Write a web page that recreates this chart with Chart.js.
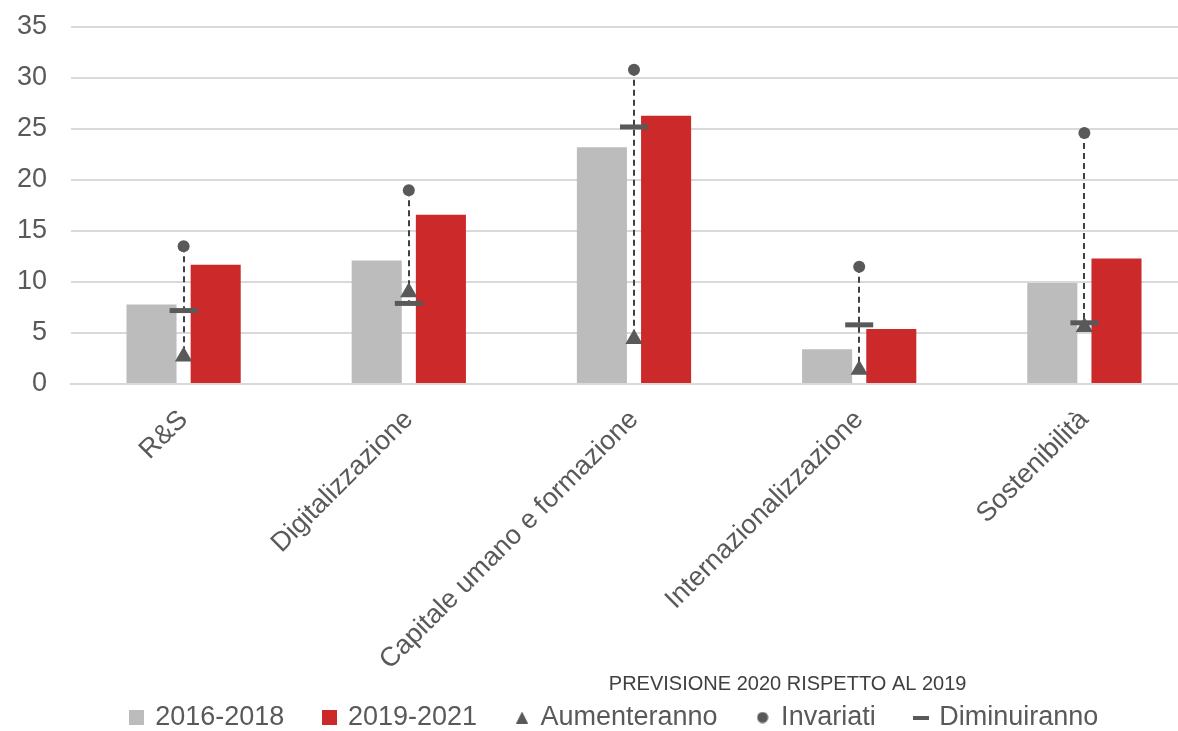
<!DOCTYPE html>
<html>
<head>
<meta charset="utf-8">
<script src="https://cdn.jsdelivr.net/npm/chart.js@4/dist/chart.umd.min.js"></script>
<style>
	html, body { margin: 0; padding: 0; background: #fff; overflow: hidden; }
	#wrap { position: relative; width: 1232px; height: 741px; }
</style>
</head>
<body>
<div id="wrap"><canvas id="chart"></canvas></div>
<script>
// data
var categories = ['R&S', 'Digitalizzazione', 'Capitale umano e formazione', 'Internazionalizzazione', 'Sostenibilità'];
var values2016 = [7.8, 12.1, 23.2, 3.4, 9.9];
var values2019 = [11.7, 16.6, 26.3, 5.4, 12.3];
var aumenteranno = [2.7, 9.0, 4.4, 1.4, 5.6];
var invariati = [13.5, 19.0, 30.8, 11.5, 24.6];
var diminuiranno = [7.2, 7.9, 25.2, 5.8, 6.0];
var yTicks = [0, 5, 10, 15, 20, 25, 30, 35];
var noteText = 'PREVISIONE 2020 RISPETTO AL 2019';

var fontFamily = "'Liberation Sans', Arial, sans-serif";
var textColor = '#595959';
var markerColor = '#595959';
var greyBar = '#bcbcbc';
var redBar = '#cc292b';

// small canvases used as legend symbols
var makeIcon = function(w, h, drawFn) {
	var c = document.createElement('canvas');
	c.width = w; c.height = h;
	var g = c.getContext('2d');
	g.fillStyle = markerColor;
	drawFn(g, w, h);
	return c;
};
var iconGrey = makeIcon(15, 15, function(g, w, h) { g.fillStyle = greyBar; g.fillRect(0, 0, w, h); });
var iconRed = makeIcon(15, 15, function(g, w, h) { g.fillStyle = redBar; g.fillRect(0, 0, w, h); });
var iconTri = makeIcon(12, 12, function(g, w, h) { g.beginPath(); g.moveTo(w / 2, 0); g.lineTo(w, h); g.lineTo(0, h); g.closePath(); g.fill(); });
var iconDot = makeIcon(12, 12, function(g, w, h) { g.beginPath(); g.arc(w / 2, h / 2, 5.5, 0, Math.PI * 2); g.fill(); });
var iconDash = makeIcon(16, 4, function(g, w, h) { g.fillRect(0, 0, w, h); });
var legendIcons = [iconGrey, iconRed, iconTri, iconDot, iconDash];

// dashed high-low line per category
var hiLoPlugin = {
	id: 'hiLo',
	afterLayout: function(chart) {
		// let rotated labels run past the axis box, nudge legend right
		chart.scales.x.bottom = chart.height;
		chart.legend.left += 8;
		chart.legend.right += 8;
	},
	beforeDatasetsDraw: function(chart) {
		var ctx = chart.ctx;
		var xs = chart.scales.x, ys = chart.scales.y;
		ctx.save();
		ctx.strokeStyle = '#404040';
		ctx.lineWidth = 2;
		ctx.setLineDash([6, 4]);
		for (var i = 0; i < categories.length; i++) {
			var v = [aumenteranno[i], invariati[i], diminuiranno[i]];
			var px = Math.round(xs.getPixelForValue(i));
			ctx.beginPath();
			ctx.moveTo(px, ys.getPixelForValue(Math.max.apply(null, v)));
			ctx.lineTo(px, ys.getPixelForValue(Math.min.apply(null, v)));
			ctx.stroke();
		}
		ctx.restore();
	}
};

// caption above the last three legend items
var notePlugin = {
	id: 'note',
	afterDraw: function(chart) {
		var boxes = chart.legend && chart.legend.legendHitBoxes;
		if (!boxes || boxes.length < 5) return;
		var left = boxes[2].left, right = boxes[4].left + boxes[4].width;
		var ctx = chart.ctx;
		ctx.save();
		ctx.font = '20px ' + fontFamily;
		ctx.fillStyle = '#404040';
		ctx.textAlign = 'center';
		ctx.textBaseline = 'alphabetic';
		ctx.fillText(noteText, (left + right) / 2 - 20, boxes[2].top + boxes[2].height / 2 - 28);
		ctx.restore();
	}
};

var chartSet = new Chart(document.getElementById('chart'), {
	type: 'bar',
	data: {
		labels: categories,
		datasets: [
			{ label: 'Diminuiranno', type: 'line', data: diminuiranno, showLine: false, order: 0,
				pointStyle: 'line', pointRadius: 14, pointBorderWidth: 5, pointBorderColor: markerColor, pointBackgroundColor: markerColor },
			{ label: 'Invariati', type: 'line', data: invariati, showLine: false, order: 1,
				pointStyle: 'circle', pointRadius: 6, pointBorderWidth: 0, pointBorderColor: markerColor, pointBackgroundColor: markerColor },
			{ label: 'Aumenteranno', type: 'line', data: aumenteranno, showLine: false, order: 2,
				pointStyle: 'triangle', pointRadius: 10, pointBorderWidth: 0, pointBorderColor: markerColor, pointBackgroundColor: markerColor },
			{ label: '2016-2018', data: values2016, backgroundColor: greyBar, order: 3,
				barPercentage: 0.78, categoryPercentage: 0.57 },
			{ label: '2019-2021', data: values2019, backgroundColor: redBar, order: 3,
				barPercentage: 0.78, categoryPercentage: 0.57 }
		]
	},
	options: {
		responsive: true,
		maintainAspectRatio: false,
		animation: false,
		layout: { padding: { left: 17, right: 35, top: 27, bottom: 0 } },
		scales: {
			x: {
				grid: { display: false, drawTicks: false },
				border: { display: true, color: '#d9d9d9', width: 2 },
				ticks: { color: textColor, font: { family: fontFamily, size: 27 }, minRotation: 45, maxRotation: 45, autoSkip: false, padding: 20 },
				afterFit: function(scale) {
					scale.height = 280;
					scale.paddingLeft = 0;
					scale.paddingRight = 0;
				}
			},
			y: {
				min: 0,
				max: 35,
				grid: { color: '#d9d9d9', lineWidth: 2, drawTicks: false },
				border: { display: false },
				afterBuildTicks: function(scale) { scale.ticks = yTicks.map(function(v) { return { value: v }; }); },
				ticks: { color: textColor, font: { family: fontFamily, size: 27 }, padding: 24 },
				afterFit: function(scale) {
					scale.width = 54;
					scale.paddingTop = 0;
					scale.paddingBottom = 0;
				}
			}
		},
		plugins: {
			tooltip: { enabled: false },
			legend: {
				position: 'bottom',
				labels: {
					usePointStyle: true,
					pointStyleWidth: 10,
					boxHeight: 15,
					padding: 40,
					color: textColor,
					font: { family: fontFamily, size: 27 },
					generateLabels: function(chart) {
						var order = [3, 4, 2, 1, 0];
						return order.map(function(dsIdx, i) {
							return {
								text: chart.data.datasets[dsIdx].label,
								pointStyle: legendIcons[i],
								fillStyle: markerColor,
								strokeStyle: 'transparent',
								lineWidth: 0,
								fontColor: textColor,
								hidden: false,
								datasetIndex: dsIdx
							};
						});
					}
				}
			}
		}
	},
	plugins: [hiLoPlugin, notePlugin]
});
</script>
</body>
</html>
